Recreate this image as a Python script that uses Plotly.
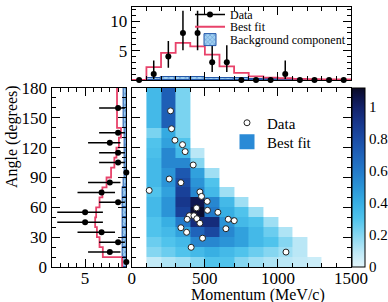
import plotly.graph_objects as go

# ---------------- data ----------------
mom_edges = [0, 100, 200, 300, 400, 500, 600, 700, 800, 900, 1000, 1100, 1200, 1300, 1400, 1500]
mom_centers = [50, 150, 250, 350, 450, 550, 650, 750, 850, 950, 1050, 1150, 1250, 1350, 1450]
mom_counts = [0, 1, 4, 8, 8, 3, 3, 0, 0, 0, 1, 0, 0, 0, 0]
mom_err_plus = [0, 2.30, 2.64, 3.77, 3.77, 2.92, 2.92, 0, 0, 0, 2.30, 0, 0, 0, 0]
mom_err_minus = [0, 0.83, 1.91, 2.94, 2.94, 1.63, 1.63, 0, 0, 0, 0.83, 0, 0, 0, 0]
mom_fit = [0, 2.2, 4.6, 6.3, 5.7, 4.3, 2.3, 1.2, 0.6, 0.4, 0.3, 0.2, 0.15, 0.1, 0.1]
mom_bkg = [0, 0.4, 0.5, 0.55, 0.5, 0.4, 0.35, 0.3, 0.2, 0.15, 0.1, 0.08, 0.05, 0.03, 0.02]

ang_edges = [0, 10, 20, 30, 40, 50, 60, 70, 80, 90, 100, 110, 120, 130, 140, 180]
ang_centers = [5, 15, 25, 35, 45, 55, 65, 75, 85, 95, 105, 115, 125, 135, 160]
ang_widths = [10, 10, 10, 10, 10, 10, 10, 10, 10, 10, 10, 10, 10, 10, 40]
ang_counts = [0, 2, 1, 3, 5, 5, 1, 3, 2, 0, 1, 1, 2, 1, 1]
ang_err_plus = [0, 2.64, 2.30, 2.92, 3.38, 3.38, 2.30, 2.92, 2.64, 0, 2.30, 2.30, 2.64, 2.30, 2.30]
ang_err_minus = [0, 1.29, 0.83, 1.63, 2.16, 2.16, 0.83, 1.63, 1.29, 0, 0.83, 0.83, 1.29, 0.83, 0.83]
ang_fit = [0.5, 2.85, 3.25, 3.57, 3.78, 3.66, 3.25, 2.9, 2.4, 1.85, 1.45, 1.2, 0.9, 0.65, 1.13]
ang_bkg = [0.45, 0.5, 0.5, 0.5, 0.5, 0.5, 0.45, 0.4, 0.35, 0.25, 0.2, 0.2, 0.15, 0.15, 0.3]

hm_x_edges = [100, 200, 300, 400, 500, 600, 700, 800, 900, 1000, 1100, 1200, 1300]
hm_y_edges = ang_edges
N = None
hm_z = [
    [0.08, 0.12, 0.15, 0.2, 0.3, 0.3, 0.2, 0.15, 0.12, 0.1, 0.08, 0.06],
    [0.2, 0.25, 0.3, 0.35, 0.4, 0.35, 0.3, 0.25, 0.2, 0.15, 0.1, N],
    [0.25, 0.3, 0.35, 0.55, 0.55, 0.5, 0.45, 0.35, 0.3, 0.2, 0.1, N],
    [0.3, 0.35, 0.45, 0.7, 0.82, 0.55, 0.45, 0.35, 0.25, 0.12, N, N],
    [0.3, 0.4, 0.6, 0.95, 0.95, 0.5, 0.35, 0.3, 0.15, N, N, N],
    [0.35, 0.5, 0.85, 1.1, 0.6, 0.4, 0.3, 0.15, N, N, N, N],
    [0.35, 0.5, 0.9, 1.05, 0.55, 0.35, 0.15, N, N, N, N, N],
    [0.3, 0.45, 0.85, 0.55, 0.35, 0.15, N, N, N, N, N, N],
    [0.35, 0.5, 0.8, 0.5, 0.3, N, N, N, N, N, N, N],
    [0.35, 0.5, 0.75, 0.45, 0.15, N, N, N, N, N, N, N],
    [0.35, 0.55, 0.55, 0.2, N, N, N, N, N, N, N, N],
    [0.32, 0.55, 0.35, 0.1, N, N, N, N, N, N, N, N],
    [0.3, 0.45, 0.3, N, N, N, N, N, N, N, N, N],
    [0.22, 0.42, 0.22, N, N, N, N, N, N, N, N, N],
    [0.35, 0.72, 0.22, N, N, N, N, N, N, N, N, N],
]

evt_mom = [265, 272, 295, 347, 365, 420, 256, 336, 119, 466, 477, 516, 443, 518,
           589, 393, 425, 379, 445, 466, 660, 701, 644, 336, 375, 484, 406, 1055]
evt_ang = [157, 139, 127.5, 123, 116, 102.6, 88.5, 84.8, 77, 75.5, 71, 66, 59.4, 57,
           55, 51.6, 51.6, 48, 48.6, 44, 48, 46.6, 38.5, 39.5, 34.9, 29, 19.8, 15]

cbar_ticks = [0, 0.2, 0.4, 0.6, 0.8, 1]
cbar_text = ["0", "0.2", "0.4", "0.6", "0.8", "1"]

# ---------------- layout geometry ----------------
W, H = 388, 302
ML, MR, MT, MB = 0, 36.5, 0, 35
PW, PH = W - ML - MR, H - MT - MB

def dx(x):   # pixel x -> plot-area (paper) fraction
    return (x - ML) / PW
def dy(y):
    return 1 - (y - MT) / PH
def cx(x):   # pixel -> container fraction
    return x / W
def cy(y):
    return 1 - y / H

main_x = [dx(132), dx(351.5)]
main_y = [dy(267), dy(88)]
top_y = [dy(80), dy(7)]
left_x = [dx(51.7), dx(126.5)]

colorscale = [
    [0.0, "#e2f5fb"], [0.08, "#bfe9f7"], [0.18, "#84d6f1"], [0.27, "#4fc3ec"],
    [0.36, "#37aee3"], [0.45, "#2a93d6"], [0.54, "#2379c9"], [0.63, "#1f62b9"],
    [0.72, "#1b4ba4"], [0.81, "#17358a"], [0.89, "#13226a"], [0.95, "#0e1448"],
    [1.0, "#0a0a24"],
]

FONT = "Liberation Serif, Times New Roman, serif"
RED = "#e8426a"
HATCH = dict(color="#9fd0f2", line=dict(color="#2458a8", width=1),
             pattern=dict(shape="x", fgcolor="#2458a8", size=4, solidity=0.3))

fig = go.Figure()

# heatmap (main)
fig.add_trace(go.Heatmap(
    x=hm_x_edges, y=hm_y_edges, z=hm_z, zmin=0, zmax=1.12,
    colorscale=colorscale, xaxis="x", yaxis="y", showscale=True, hoverongaps=False,
    colorbar=dict(x=dx(352.5), xanchor="left",
                  y=dy(267), yanchor="bottom", lenmode="fraction", len=(267 - 88) / PH,
                  thicknessmode="pixels", thickness=13,
                  outlinewidth=1, outlinecolor="black", tickvals=cbar_ticks,
                  ticktext=cbar_text, ticks="", ticklen=0,
                  tickfont=dict(family=FONT, size=15, color="black"), xpad=0, ypad=0),
    showlegend=False,
))
fig.add_trace(go.Scatter(
    x=evt_mom, y=evt_ang, mode="markers", xaxis="x", yaxis="y",
    marker=dict(symbol="circle", size=6, color="white", line=dict(color="#222", width=1)),
    name="Data", legend="legend4", showlegend=True,
))
fig.add_trace(go.Scatter(
    x=[None], y=[None], mode="markers", xaxis="x", yaxis="y",
    marker=dict(symbol="square", size=15, color="#2a8ad6"),
    name="Best fit", legend="legend5", showlegend=True,
))

# top panel
fig.add_trace(go.Bar(
    x=mom_centers, y=mom_bkg, width=100, xaxis="x2", yaxis="y2",
    marker=HATCH, showlegend=False,
))
fig.add_trace(go.Scatter(
    x=mom_edges, y=mom_fit + [mom_fit[-1]], mode="lines", line_shape="hv",
    line=dict(color=RED, width=1.8), xaxis="x2", yaxis="y2", showlegend=False,
))
fig.add_trace(go.Scatter(
    x=mom_centers, y=mom_counts, mode="markers", xaxis="x2", yaxis="y2",
    marker=dict(color="black", size=6),
    error_y=dict(type="data", symmetric=False, array=mom_err_plus,
                 arrayminus=mom_err_minus, color="black", thickness=1.5, width=0),
    cliponaxis=False, showlegend=False,
))
# legend-only entries for top panel
fig.add_trace(go.Scatter(x=[None], y=[None], mode="lines+markers", xaxis="x2", yaxis="y2",
                         line=dict(color="black", width=1.5), marker=dict(color="black", size=6),
                         name="Data", legend="legend"))
fig.add_trace(go.Scatter(x=[None], y=[None], mode="lines", xaxis="x2", yaxis="y2",
                         line=dict(color=RED, width=2), name="Best fit", legend="legend2"))
fig.add_trace(go.Bar(x=[None], y=[None], xaxis="x2", yaxis="y2", marker=HATCH,
                     name="Background component", legend="legend3"))

# left panel
fig.add_trace(go.Bar(
    y=ang_centers, x=ang_bkg, width=ang_widths, orientation="h", xaxis="x3", yaxis="y3",
    marker=HATCH, showlegend=False,
))
fig.add_trace(go.Scatter(
    y=ang_edges, x=ang_fit + [ang_fit[-1]], mode="lines", line_shape="vh",
    line=dict(color=RED, width=1.8), xaxis="x3", yaxis="y3", showlegend=False,
))
fig.add_trace(go.Scatter(
    y=ang_centers, x=ang_counts, mode="markers", xaxis="x3", yaxis="y3",
    marker=dict(color="black", size=6),
    error_x=dict(type="data", symmetric=False, array=ang_err_plus,
                 arrayminus=ang_err_minus, color="black", thickness=1.5, width=0),
    cliponaxis=False, showlegend=False,
))

axis_common = dict(showline=True, linecolor="black", linewidth=1.3, mirror="allticks",
                   ticks="inside", ticklen=8, tickcolor="black", tickwidth=1,
                   showgrid=False, zeroline=False, automargin=False,
                   tickfont=dict(family=FONT, size=17, color="black"))
minor_x = dict(dtick=100, ticks="inside", ticklen=4, tickcolor="black")
minor_a = dict(dtick=10, ticks="inside", ticklen=4, tickcolor="black")


def leg(xpix, ypix, size):
    return dict(xref="container", yref="container", x=cx(xpix), y=cy(ypix),
                xanchor="left", yanchor="top", bgcolor="rgba(0,0,0,0)",
                borderwidth=0, itemwidth=30,
                font=dict(family=FONT, size=size, color="black"))


fig.update_layout(
    width=W, height=H, margin=dict(l=ML, r=MR, t=MT, b=MB, autoexpand=False),
    paper_bgcolor="white", plot_bgcolor="white", bargap=0,
    font=dict(family=FONT, color="black"),
    xaxis=dict(domain=main_x, range=[0, 1500], anchor="y", tickvals=[0, 500, 1000, 1500],
               minor=minor_x, ticklabelstandoff=-5, **axis_common),
    yaxis=dict(domain=main_y, range=[0, 180], anchor="x", tickvals=[0, 30, 60, 90, 120, 150, 180],
               showticklabels=False, minor=minor_a, **axis_common),
    xaxis2=dict(domain=main_x, range=[0, 1500], anchor="y2", tickvals=[0, 500, 1000, 1500],
                showticklabels=False, minor=minor_x, **axis_common),
    yaxis2=dict(domain=top_y, range=[0, 12.4], anchor="x2", tickvals=[5, 10],
                minor=dict(dtick=1, ticks="inside", ticklen=4, tickcolor="black"), **axis_common),
    xaxis3=dict(domain=left_x, range=[9.06, 0], anchor="y3", tickvals=[5],
                minor=dict(dtick=1, ticks="inside", ticklen=4, tickcolor="black"),
                ticklabelstandoff=-5, **axis_common),
    yaxis3=dict(domain=main_y, range=[0, 180], anchor="x3", tickvals=[0, 30, 60, 90, 120, 150, 180],
                minor=minor_a, **axis_common),
    legend=leg(190, -0.5, 12),
    legend2=leg(190, 12.3, 12),
    legend3=leg(190, 25.1, 12),
    legend4=leg(227, 106.5, 15),
    legend5=leg(227, 125.5, 15),
    annotations=[
        dict(text="Momentum (MeV/c)", x=dx(258), y=dy(294.5), xref="paper", yref="paper",
             xanchor="center", yanchor="middle",
             showarrow=False, font=dict(family=FONT, size=16, color="black")),
        dict(text="Angle (degrees)", x=dx(12), y=dy(136), xref="paper", yref="paper",
             xanchor="center", yanchor="middle",
             showarrow=False, textangle=-90, font=dict(family=FONT, size=16, color="black")),
    ],
)

fig.write_html("out.html")
